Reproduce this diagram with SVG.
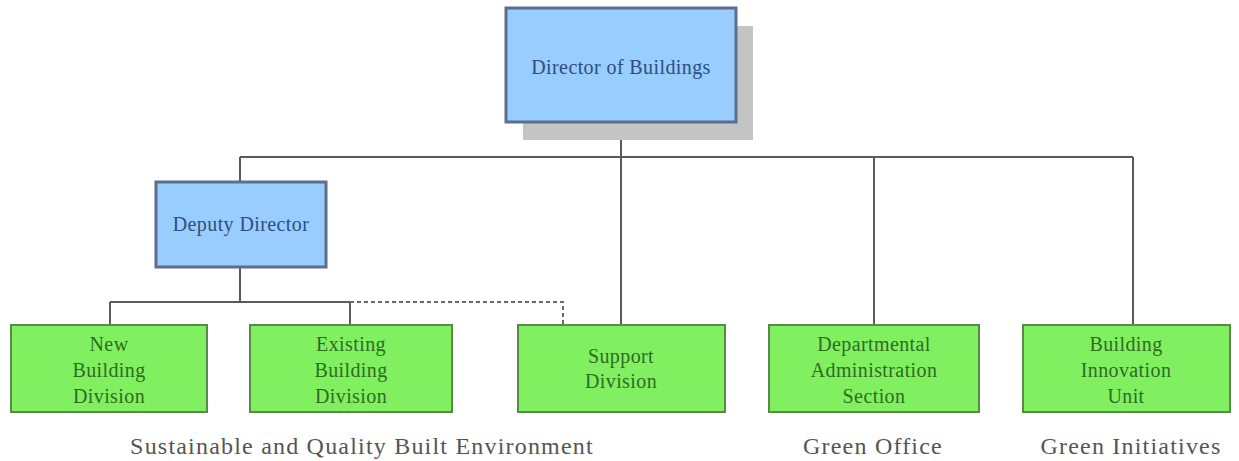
<svg xmlns="http://www.w3.org/2000/svg" width="1239" height="461" viewBox="0 0 1239 461">
<style>
.blue{fill:#99ccff;stroke:#5b6f8c;stroke-width:3}
.green{fill:#80f060;stroke:#5a8a4a;stroke-width:2}
.shadow{fill:#c4c4c4}
.tb{font-family:"Liberation Serif",serif;font-size:20px;letter-spacing:0.4px;fill:#2c4f7c;text-anchor:middle}
.tg{font-family:"Liberation Serif",serif;font-size:20px;letter-spacing:0.4px;fill:#2f6b22;text-anchor:middle}
.lab{font-family:"Liberation Serif",serif;font-size:24px;fill:#555;text-anchor:middle;letter-spacing:1.2px}
.ln{stroke:#5a5a5a;stroke-width:2;fill:none}
.dash{stroke:#6a6a6a;stroke-width:2;fill:none;stroke-dasharray:4 3}
</style>
<g id="connectors">
<path class="ln" d="M621 122V157M240 157H1133M240 157V182M621 157V325M874 157V325M1133 157V325"/>
<path class="ln" d="M240 267V302M110 302H350M110 302V325M350 302V325"/>
<path class="dash" d="M350 302H563V325"/>
</g>
<g id="director">
<rect class="shadow" x="523" y="26" width="230" height="114"/>
<rect class="blue" x="506" y="8" width="230" height="114"/>
<text class="tb" x="621" y="74">Director of Buildings</text>
</g>
<g id="deputy">
<rect class="blue" x="156" y="182" width="170" height="85"/>
<text class="tb" x="241" y="231">Deputy Director</text>
</g>
<g id="new-building">
<rect class="green" x="11" y="325" width="196" height="87"/>
<text class="tg" x="109" y="351">New</text>
<text class="tg" x="109" y="377">Building</text>
<text class="tg" x="109" y="403">Division</text>
</g>
<g id="existing-building">
<rect class="green" x="250" y="325" width="202" height="87"/>
<text class="tg" x="351" y="351">Existing</text>
<text class="tg" x="351" y="377">Building</text>
<text class="tg" x="351" y="403">Division</text>
</g>
<g id="support">
<rect class="green" x="518" y="325" width="207" height="87"/>
<text class="tg" x="621" y="363">Support</text>
<text class="tg" x="621" y="388">Division</text>
</g>
<g id="departmental">
<rect class="green" x="769" y="325" width="210" height="87"/>
<text class="tg" x="874" y="351">Departmental</text>
<text class="tg" x="874" y="377">Administration</text>
<text class="tg" x="874" y="403">Section</text>
</g>
<g id="innovation">
<rect class="green" x="1023" y="325" width="207" height="87"/>
<text class="tg" x="1126" y="351">Building</text>
<text class="tg" x="1126" y="377">Innovation</text>
<text class="tg" x="1126" y="403">Unit</text>
</g>
<g id="labels">
<text class="lab" x="362" y="454">Sustainable and Quality Built Environment</text>
<text class="lab" x="873" y="454">Green Office</text>
<text class="lab" x="1131" y="454">Green Initiatives</text>
</g>
</svg>
